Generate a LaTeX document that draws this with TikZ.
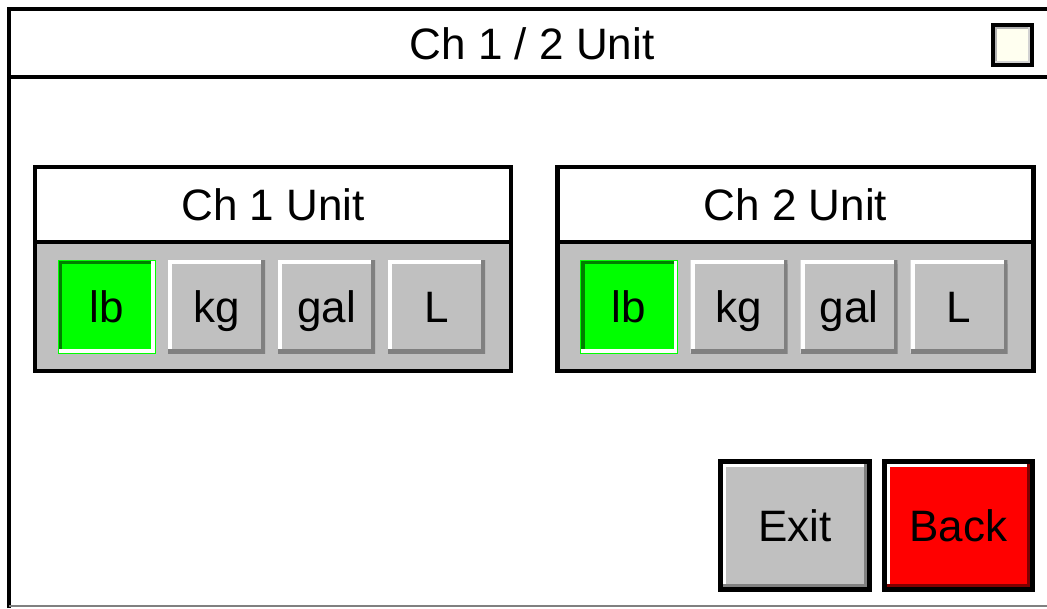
\documentclass[tikz,border=0pt]{standalone}
\usepackage{fontspec}
\setmainfont{Liberation Sans}
\usepackage{xcolor}
\usetikzlibrary{positioning}
\definecolor{panelgray}{HTML}{C0C0C0}
\definecolor{shadegray}{HTML}{808080}
\definecolor{ongreen}{HTML}{00FF00}
\definecolor{ongreendark}{HTML}{008000}
\definecolor{backred}{HTML}{FF0000}
\definecolor{backreddark}{HTML}{800000}
\definecolor{boxivory}{HTML}{FFFFF0}
\tikzset{bevel/.style n args={3}{path picture={
	\draw[#1, line width=#3] (path picture bounding box.south west) -- (path picture bounding box.north west) -- (path picture bounding box.north east);
	\draw[#2, line width=#3] (path picture bounding box.south west) -- (path picture bounding box.south east) -- (path picture bounding box.north east);}}}
\begin{document}
\begin{tikzpicture}[x=1pt, y=-1pt, font=\fontsize{44}{50}\selectfont, node distance=13pt,
	label text/.style={text height=31.7pt, text depth=0pt},
	panel/.style={rectangle, draw=black, line width=4.5pt, outer sep=0pt, inner sep=0pt, minimum width=476pt, label text},
	panelhead/.style={panel, fill=white, minimum height=75pt},
	panelbody/.style={panel, fill=panelgray, minimum height=129pt},
	unitbtn/.style={rectangle, fill=panelgray, outer sep=0pt, minimum width=97pt, minimum height=93pt, label text, bevel={white}{shadegray}{8pt}},
	unitbtnon/.style={unitbtn, fill=ongreen, draw=ongreen, bevel={ongreendark}{white}{8pt}},
	navbtn/.style={rectangle, draw=black, line width=5pt, outer sep=0pt, minimum width=149pt, minimum height=128pt, label text}]
	\fill[white] (0,0) rectangle (1047,608);
	\useasboundingbox (0,0) rectangle (1047,608);
	\draw[line width=4.5pt] (9,608) -- (9,9) -- (1050,9);
	\draw[line width=4.5pt] (9,77) -- (1050,77);
	\draw[shadegray, line width=1.5pt] (9,606) -- (1047,606);
	\node[label text] (title) at (532,43.5) {Ch 1 / 2 Unit};
	\node[rectangle, draw=black, line width=4.5pt, fill=boxivory, minimum width=39pt, minimum height=40pt, bevel={gray!60}{gray!35}{8pt}] (check) at (1012.5,45) {};
	\node[panelhead] (head1) at (273,204.5) {Ch 1 Unit};
	\node[panelbody] (body1) [below = 0pt of head1] {};
	\node[unitbtnon] (lb1) at (106.5,306.5) {lb};
	\node[unitbtn] (kg1) [right = of lb1] {kg};
	\node[unitbtn] (gal1) [right = of kg1] {gal};
	\node[unitbtn] (l1) [right = of gal1] {L};
	\node[panelhead] (head2) at (795.5,204.5) {Ch 2 Unit};
	\node[panelbody] (body2) [below = 0pt of head2] {};
	\node[unitbtnon] (lb2) at (629,306.5) {lb};
	\node[unitbtn] (kg2) [right = of lb2] {kg};
	\node[unitbtn] (gal2) [right = of kg2] {gal};
	\node[unitbtn] (l2) [right = of gal2] {L};
	\node[navbtn, fill=panelgray, bevel={white}{shadegray}{11pt}] (exit) at (795,525.5) {Exit};
	\node[navbtn, fill=backred, bevel={white}{backreddark}{11pt}, minimum width=148pt] (back) [right = 15pt of exit] {Back};
\end{tikzpicture}
\end{document}
